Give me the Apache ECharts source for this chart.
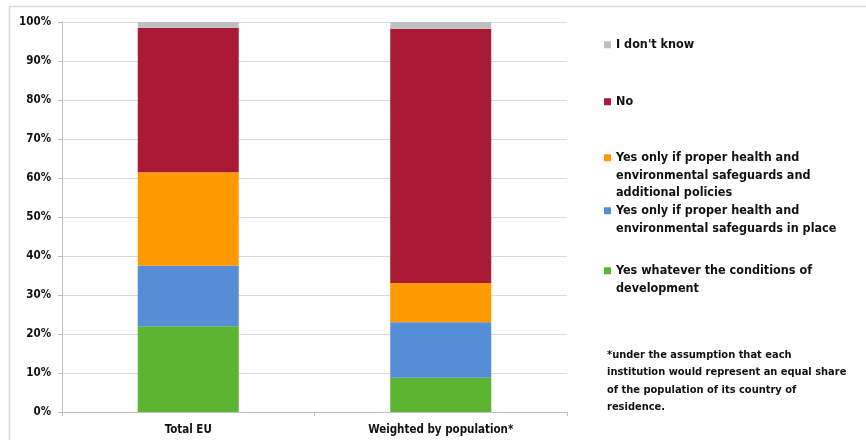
<!DOCTYPE html>
<html>
<head>
<meta charset="utf-8">
<script src="https://cdn.jsdelivr.net/npm/echarts@6/dist/echarts.min.js"></script>
<style>
  html, body { margin: 0; padding: 0; background: #ffffff; }
  #chart { width: 866px; height: 440px; }
</style>
</head>
<body>
<div id="chart"></div>
<script>
// Categories along the x axis
const categories = ['Total EU', 'Weighted by population*'];

// Share of answers (percent), stacked bottom to top
const yesWhatever = [22.0, 8.8];
const yesSafeguards = [15.5, 14.2];
const yesSafeguardsPolicies = [24.0, 10.1];
const no = [37.0, 65.2];
const dontKnow = [1.5, 1.7];

// Series names as shown in the legend
const seriesNames = [
  'Yes whatever the conditions of\ndevelopment',
  'Yes only if proper health and\nenvironmental safeguards in place',
  'Yes only if proper health and\nenvironmental safeguards and\nadditional policies',
  'No',
  "I don't know"
];
const seriesValues = [yesWhatever, yesSafeguards, yesSafeguardsPolicies, no, dontKnow];
const seriesColors = ['#5BB432', '#558ED5', '#FF9900', '#AA1A37', '#BFBFBF'];

// Y axis tick range
const yMin = 0, yMax = 100, yStep = 10;

const footnote = '*under the assumption that each\ninstitution would represent an equal share\nof the population of its country of\nresidence.';

const FONT = '"Liberation Sans Narrow", "DejaVu Sans Condensed", "Liberation Sans", sans-serif';
const LINE_H = 17.5;
const legendText = {
  fontFamily: FONT,
  fontWeight: 'bold',
  fontSize: 12.5,
  lineHeight: LINE_H
};
const noteText = {
  fontFamily: FONT,
  fontWeight: 'bold',
  fontSize: 11,
  lineHeight: LINE_H
};

// Legend entries placed individually on the right side, top to bottom
const legendTops = [36, 93, 149, 202, 262];
const legendOrder = [4, 3, 2, 1, 0];
const LEGEND_LEFT = 604;
const LEGEND_TEXT_LEFT = 616;

const legends = legendOrder.map((idx, i) => ({
  data: [seriesNames[idx]],
  left: LEGEND_LEFT,
  top: legendTops[i],
  padding: 0,
  orient: 'vertical',
  itemWidth: 7,
  itemHeight: 7,
  itemGap: 0,
  icon: 'rect',
  selectedMode: false,
  align: 'left',
  formatter: name => name.split('\n')[0],
  textStyle: Object.assign({ color: '#111' }, legendText)
}));

// Wrapped lines of the longer legend entries, kept under the first line
const continuation = legendOrder.map((idx, i) => {
  const rest = seriesNames[idx].split('\n').slice(1);
  if (!rest.length) return null;
  return {
    type: 'text',
    left: LEGEND_TEXT_LEFT,
    top: legendTops[i] + LINE_H,
    style: Object.assign({ text: rest.join('\n'), fill: '#111' }, legendText)
  };
}).filter(Boolean);

const chart = echarts.init(document.getElementById('chart'), null, { renderer: 'canvas' });

chart.setOption({
  animation: false,
  backgroundColor: '#ffffff',
  legend: legends,
  grid: { left: 62, right: 299, top: 22, bottom: 28, containLabel: false },
  xAxis: {
    type: 'category',
    data: categories,
    axisLine: { lineStyle: { color: '#BFBFBF', width: 1 } },
    axisTick: { show: true, length: 4, lineStyle: { color: '#BFBFBF' } },
    axisLabel: {
      fontFamily: FONT,
      fontWeight: 'bold',
      fontSize: 11.5,
      color: '#111',
      margin: 12
    }
  },
  yAxis: {
    type: 'value',
    min: yMin,
    max: yMax,
    interval: yStep,
    axisLine: { show: true, lineStyle: { color: '#BFBFBF', width: 1 } },
    axisTick: { show: true, length: 4, lineStyle: { color: '#BFBFBF' } },
    splitLine: { lineStyle: { color: '#D9D9D9', width: 1 } },
    axisLabel: {
      formatter: '{value}%',
      fontFamily: FONT,
      fontWeight: 'bold',
      fontSize: 11.5,
      color: '#111',
      margin: 11
    }
  },
  series: seriesValues.map((vals, i) => ({
    name: seriesNames[i],
    type: 'bar',
    stack: 'total',
    barWidth: '40%',
    itemStyle: { color: seriesColors[i] },
    data: vals
  })),
  graphic: [
    {
      type: 'rect',
      shape: { x: 9.5, y: 6.5, width: 1000, height: 1000 },
      style: { fill: 'none', stroke: '#D9D9D9', lineWidth: 1.5 },
      silent: true,
      z: -1
    },
    {
      type: 'text',
      left: 607,
      top: 346,
      style: Object.assign({ text: footnote, fill: '#111' }, noteText)
    }
  ].concat(continuation)
});
</script>
</body>
</html>
